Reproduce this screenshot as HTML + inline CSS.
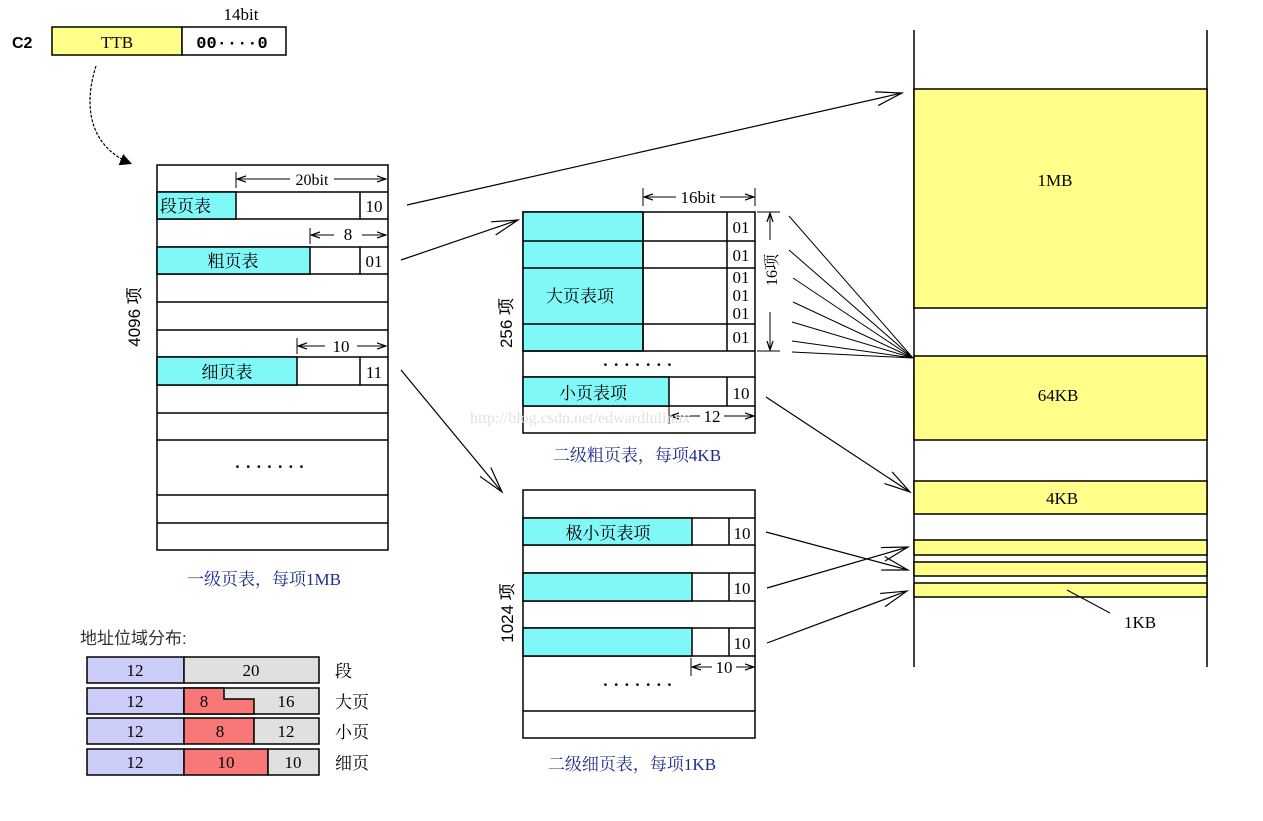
<!DOCTYPE html>
<html><head><meta charset="utf-8"><style>
body{margin:0;background:#fff;}
svg text{font-family:"Liberation Serif","Noto Serif CJK SC","Noto Sans CJK SC",serif;font-size:17px;fill:#000;}
.s{font-family:"Liberation Sans","Noto Sans CJK SC",sans-serif;}
.b{fill:#1c2c8c;}
.dots{font-weight:bold;letter-spacing:5px;}
</style></head><body>
<svg width="1263" height="816" viewBox="0 0 1263 816" xmlns="http://www.w3.org/2000/svg">
<defs>
<marker id="a" markerWidth="30" markerHeight="20" refX="28" refY="10" orient="auto" markerUnits="userSpaceOnUse">
<path d="M2,3 L28,10 L2,17" fill="none" stroke="#000" stroke-width="1.2"/></marker>
<marker id="f" markerWidth="14" markerHeight="14" refX="12" refY="7" orient="auto" markerUnits="userSpaceOnUse">
<path d="M0,1 L12,7 L0,13 Z" fill="#000"/></marker>
<marker id="d" markerWidth="10" markerHeight="8" refX="9" refY="4" orient="auto" markerUnits="userSpaceOnUse">
<path d="M0,1 L9,4 L0,7" fill="none" stroke="#000" stroke-width="1.2"/></marker>
</defs>
<g stroke="#000" stroke-width="1.5" fill="none">
<rect x="52" y="27" width="130" height="28" fill="#ffff8a"/>
<rect x="182" y="27" width="104" height="28" fill="#fff"/>
<path d="M96,66 C85,100 85,145 132,164" stroke-dasharray="3,1.5" stroke-width="1.2" marker-end="url(#f)"/>
<line x1="914" y1="30" x2="914" y2="667"/><line x1="1207" y1="30" x2="1207" y2="667"/>
<rect x="914" y="89" width="293" height="219" fill="#ffff8a"/>
<rect x="914" y="356" width="293" height="84" fill="#ffff8a"/>
<rect x="914" y="481" width="293" height="33" fill="#ffff8a"/>
<rect x="914" y="540" width="293" height="15" fill="#ffff8a"/>
<rect x="914" y="562" width="293" height="14" fill="#ffff8a"/>
<rect x="914" y="583" width="293" height="14" fill="#ffff8a"/>
<line x1="1067" y1="590" x2="1110" y2="613" stroke-width="1"/>
<rect x="157" y="165" width="231" height="385"/>
<path d="M157,192H388M157,219H388M157,247H388M157,274H388M157,302H388M157,330H388M157,357H388M157,385H388M157,413H388M157,440H388M157,495H388M157,523H388"/>
<rect x="157" y="192" width="79" height="27" fill="#80f8f8"/>
<rect x="157" y="247" width="153" height="27" fill="#80f8f8"/>
<rect x="157" y="357" width="140" height="28" fill="#80f8f8"/>
<path d="M360,192V219M360,247V274M360,357V385"/>
<g stroke-width="1"><path d="M236,172V188M310,228V244M297,338V354"/>
<path d="M290,179H237" marker-end="url(#d)"/><path d="M334,179H386" marker-end="url(#d)"/>
<path d="M334,235H311" marker-end="url(#d)"/><path d="M362,235H386" marker-end="url(#d)"/>
<path d="M325,346H298" marker-end="url(#d)"/><path d="M357,346H386" marker-end="url(#d)"/></g>
<rect x="523" y="212" width="232" height="221"/>
<rect x="523" y="212" width="120" height="139" fill="#80f8f8"/>
<path d="M523,241H755M523,268H755M523,324H755M523,351H755M523,377H755M523,406H755M643,212V351M727,212V351M727,377V406"/>
<rect x="523" y="377" width="146" height="29" fill="#80f8f8"/>
<g stroke-width="1"><path d="M643,188V206M755,188V206M669,406V424"/>
<path d="M676,197H644" marker-end="url(#d)"/><path d="M720,197H754" marker-end="url(#d)"/>
<path d="M700,416H670" marker-end="url(#d)"/><path d="M724,416H754" marker-end="url(#d)"/>
<path d="M757,212H780M757,351H780"/><path d="M770,240V213" marker-end="url(#d)"/><path d="M770,312V350" marker-end="url(#d)"/>
<path d="M789,216L913,358M789,250L913,358M793,278L913,358M793,302L913,358M792,322L913,358M792,341L913,358M792,352L913,358"/></g>
<rect x="523" y="490" width="232" height="248"/>
<path d="M523,518H755M523,545H755M523,573H755M523,601H755M523,628H755M523,656H755M523,711H755"/>
<rect x="523" y="518" width="169" height="27" fill="#80f8f8"/>
<rect x="523" y="573" width="169" height="28" fill="#80f8f8"/>
<rect x="523" y="628" width="169" height="28" fill="#80f8f8"/>
<path d="M729,518V545M729,573V601M729,628V656"/>
<g stroke-width="1"><path d="M691,658V676"/><path d="M712,667H692" marker-end="url(#d)"/><path d="M736,667H754" marker-end="url(#d)"/></g>
<g stroke-width="1.2">
<path d="M407,205L902,93" marker-end="url(#a)"/>
<path d="M401,260L518,220" marker-end="url(#a)"/>
<path d="M401,370L502,492" marker-end="url(#a)"/>
<path d="M766,397L910,492" marker-end="url(#a)"/>
<path d="M766,532L908,570" marker-end="url(#a)"/>
<path d="M767,588L908,547" marker-end="url(#a)"/>
<path d="M767,643L907,591" marker-end="url(#a)"/>
</g>
<rect x="87" y="657" width="97" height="26" fill="#ccccf8"/><rect x="184" y="657" width="135" height="26" fill="#e0e0e0"/>
<rect x="87" y="688" width="97" height="26" fill="#ccccf8"/><rect x="184" y="688" width="135" height="26" fill="#e0e0e0"/>
<path d="M184,688H224V699H254V714H184Z" fill="#f87878"/>
<rect x="87" y="718" width="97" height="26" fill="#ccccf8"/><rect x="184" y="718" width="70" height="26" fill="#f87878"/><rect x="254" y="718" width="65" height="26" fill="#e0e0e0"/>
<rect x="87" y="749" width="97" height="26" fill="#ccccf8"/><rect x="184" y="749" width="84" height="26" fill="#f87878"/><rect x="268" y="749" width="51" height="26" fill="#e0e0e0"/>
</g>
<text x="12" y="48" class="s" style="font-weight:bold;font-size:16px">C2</text>
<text x="117" y="48" text-anchor="middle">TTB</text>
<text x="232" y="48" text-anchor="middle" style="font-weight:bold;font-family:'Liberation Mono',monospace">00····0</text>
<text x="241" y="20" text-anchor="middle">14bit</text>
<text x="312" y="185" text-anchor="middle" style="font-size:16px">20bit</text>
<text x="160" y="212">段页表</text><text x="374" y="212" text-anchor="middle">10</text>
<text x="348" y="240" text-anchor="middle">8</text>
<text x="233" y="267" text-anchor="middle">粗页表</text><text x="374" y="267" text-anchor="middle">01</text>
<text x="341" y="352" text-anchor="middle">10</text>
<text x="227" y="378" text-anchor="middle">细页表</text><text x="374" y="378" text-anchor="middle">11</text>
<text x="272" y="472" text-anchor="middle" class="dots">·······</text>
<text transform="translate(140,317) rotate(-90)" text-anchor="middle" class="s">4096 项</text>
<text x="264" y="585" text-anchor="middle" class="b">一级页表，每项1MB</text>
<text x="698" y="203" text-anchor="middle">16bit</text>
<text x="741" y="233" text-anchor="middle">01</text><text x="741" y="261" text-anchor="middle">01</text>
<text x="741" y="283" text-anchor="middle">01</text><text x="741" y="301" text-anchor="middle">01</text><text x="741" y="319" text-anchor="middle">01</text>
<text x="741" y="343" text-anchor="middle">01</text>
<text x="580" y="302" text-anchor="middle">大页表项</text>
<text x="640" y="370" text-anchor="middle" class="dots">·······</text>
<text x="593" y="399" text-anchor="middle">小页表项</text><text x="741" y="399" text-anchor="middle">10</text>
<text x="712" y="422" text-anchor="middle">12</text>
<text transform="translate(777,270) rotate(-90)" text-anchor="middle" style="font-size:16px">16项</text>
<text transform="translate(512,323) rotate(-90)" text-anchor="middle" class="s">256 项</text>
<text x="637" y="461" text-anchor="middle" class="b">二级粗页表，每项4KB</text>
<text x="608" y="539" text-anchor="middle">极小页表项</text>
<text x="742" y="539" text-anchor="middle">10</text><text x="742" y="594" text-anchor="middle">10</text><text x="742" y="649" text-anchor="middle">10</text>
<text x="724" y="673" text-anchor="middle">10</text>
<text x="640" y="690" text-anchor="middle" class="dots">·······</text>
<text transform="translate(513,613) rotate(-90)" text-anchor="middle" class="s">1024 项</text>
<text x="632" y="770" text-anchor="middle" class="b">二级细页表，每项1KB</text>
<text x="1055" y="186" text-anchor="middle">1MB</text>
<text x="1058" y="401" text-anchor="middle">64KB</text>
<text x="1062" y="504" text-anchor="middle">4KB</text>
<text x="1140" y="628" text-anchor="middle">1KB</text>
<text x="470" y="423" style="font-size:16px;fill:#e2e2e2">http://blog.csdn.net/edwardlulinux</text>
<g class="s" style="font-size:16px">
<text x="80" y="644" class="s" style="fill:#333">地址位域分布:</text>
<text x="135" y="676" text-anchor="middle">12</text><text x="251" y="676" text-anchor="middle">20</text>
<text x="135" y="707" text-anchor="middle">12</text><text x="204" y="707" text-anchor="middle">8</text><text x="286" y="707" text-anchor="middle">16</text>
<text x="135" y="737" text-anchor="middle">12</text><text x="220" y="737" text-anchor="middle">8</text><text x="286" y="737" text-anchor="middle">12</text>
<text x="135" y="768" text-anchor="middle">12</text><text x="226" y="768" text-anchor="middle">10</text><text x="293" y="768" text-anchor="middle">10</text>
<text x="335" y="677">段</text><text x="335" y="708">大页</text><text x="335" y="738">小页</text><text x="335" y="769">细页</text>
</g>
</svg>
</body></html>
